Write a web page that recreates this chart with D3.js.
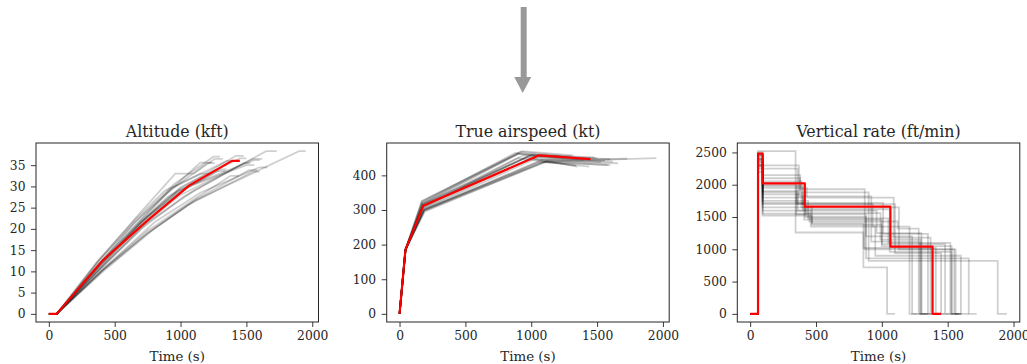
<!DOCTYPE html>
<html>
<head>
<meta charset="utf-8">
<script src="https://cdn.jsdelivr.net/npm/d3@7"></script>
<style>
  body { margin: 0; background: #fff; }
  svg { display: block; }
  text { font-family: "DejaVu Serif", serif; fill: #262626; }
</style>
</head>
<body>
<div id="chart"></div>
<script>
// time (s) -> altitude (kft), one array per flight
const altitudeFlights = [
  [[0,0],[60,0],[390,12.2],[700,22.0],[900,28.5],[1200,35.5],[1260,35.5]],
  [[0,0],[60,0],[400,11.0],[700,20.5],[1000,28.0],[1550,36.5],[1620,36.5]],
  [[0,0],[65,0],[380,12.5],[700,23.0],[950,30.5],[1250,37.0],[1300,37.0]],
  [[0,0],[60,0],[420,11.5],[750,21.5],[1100,29.0],[1650,38.3],[1730,38.3]],
  [[0,0],[60,0],[400,10.0],[750,19.0],[1100,26.5],[1900,38.3],[1950,38.3]],
  [[0,0],[60,0],[410,10.3],[750,19.0],[1050,25.5],[1550,33.5],[1600,33.5]],
  [[0,0],[60,0],[390,12.0],[700,22.3],[930,29.5],[1350,36.0],[1400,36.0]],
  [[0,0],[60,0],[400,11.8],[700,21.5],[980,29.0],[1500,35.0],[1560,35.0]],
  [[0,0],[60,0],[430,11.0],[800,21.5],[1150,28.5],[1600,34.5],[1660,34.5]],
  [[0,0],[60,0],[370,12.4],[650,22.0],[880,29.0],[1150,33.0],[1220,33.0]],
  [[0,0],[60,0],[400,10.8],[700,20.0],[1020,27.5],[1480,35.5],[1530,35.5]],
  [[0,0],[60,0],[410,11.6],[700,21.5],[1000,29.5],[1420,37.2],[1480,37.2]],
  [[0,0],[60,0],[390,11.2],[700,20.8],[960,28.0],[1300,34.0],[1350,34.0]],
  [[0,0],[60,0],[420,10.2],[800,20.0],[1120,27.0],[1520,33.8],[1580,33.8]],
  [[0,0],[60,0],[400,12.0],[750,22.8],[1050,30.0],[1560,36.2],[1600,36.2]],
  [[0,0],[60,0],[380,11.4],[650,20.0],[900,27.5],[1280,33.6],[1340,33.6]],
  [[0,0],[60,0],[400,11.9],[700,21.8],[1000,29.8],[1450,36.6],[1500,36.6]],
  [[0,0],[60,0],[410,10.5],[750,19.5],[1080,26.5],[1380,32.5],[1440,32.5]],
  [[0,0],[60,0],[380,12.6],[700,24.0],[960,33.0],[1100,33.0],[1260,36.5],[1320,36.5]],
  [[0,0],[60,0],[400,12.3],[650,21.5],[900,28.5],[1150,35.6],[1240,35.6]]
];
const altitudeRef = [[0,0],[60,0],[410,12.6],[750,22.0],[1070,30.3],[1390,36.0],[1450,36.0]];

// time (s) -> true airspeed (kt)
const speedFlights = [
  [[0,0],[45,185],[175,318],[900,462],[1260,450]],
  [[0,0],[45,185],[180,305],[1000,450],[1620,440]],
  [[0,0],[45,185],[170,325],[920,468],[1300,455]],
  [[0,0],[45,185],[185,300],[1080,445],[1730,448]],
  [[0,0],[45,185],[190,295],[1100,440],[1950,450]],
  [[0,0],[45,185],[185,298],[1050,438],[1600,430]],
  [[0,0],[45,185],[175,315],[940,458],[1400,445]],
  [[0,0],[45,185],[180,312],[980,455],[1560,442]],
  [[0,0],[45,185],[190,302],[1120,442],[1660,435]],
  [[0,0],[45,185],[170,322],[880,465],[1220,455]],
  [[0,0],[45,185],[185,303],[1020,446],[1530,438]],
  [[0,0],[45,185],[180,318],[1000,460],[1480,452]],
  [[0,0],[45,185],[175,308],[960,452],[1350,425]],
  [[0,0],[45,185],[190,298],[1120,440],[1580,430]],
  [[0,0],[45,185],[180,314],[1050,456],[1600,447]],
  [[0,0],[45,185],[175,306],[900,450],[1340,428]],
  [[0,0],[45,185],[180,316],[1000,458],[1500,450]],
  [[0,0],[45,185],[185,300],[1080,440],[1440,425]],
  [[0,0],[45,185],[170,326],[930,470],[1320,458]],
  [[0,0],[45,185],[175,320],[900,462],[1240,453]]
];
const speedRef = [[0,0],[45,185],[180,312],[1060,458],[1450,447]];

// time (s) -> vertical rate (ft/min), held until the next point
const rateFlights = [
  [[0,0],[60,2520],[95,2520],[345,1260],[860,720],[1040,0],[1100,0]],
  [[0,0],[60,2300],[95,2300],[370,1820],[920,1120],[1290,0],[1350,0]],
  [[0,0],[60,2350],[95,2100],[380,1930],[870,1000],[1550,0],[1600,0]],
  [[0,0],[60,2400],[95,1900],[360,1600],[960,1250],[1300,0],[1360,0]],
  [[0,0],[60,2450],[95,1750],[440,1480],[1050,1100],[1520,0],[1580,0]],
  [[0,0],[60,2250],[95,1650],[470,1380],[1000,1050],[1530,0],[1600,0]],
  [[0,0],[60,2480],[95,1850],[400,1700],[930,1350],[1210,0],[1270,0]],
  [[0,0],[60,2380],[95,2000],[350,1540],[880,860],[1660,0],[1720,0]],
  [[0,0],[60,2300],[95,1550],[450,1430],[1120,1320],[1280,0],[1340,0]],
  [[0,0],[60,2500],[95,2250],[360,1700],[1100,940],[1450,0],[1510,0]],
  [[0,0],[60,2200],[95,1700],[420,1500],[880,1200],[1230,0],[1300,0]],
  [[0,0],[60,2420],[95,1950],[430,1800],[1090,1180],[1370,0],[1430,0]],
  [[0,0],[60,2350],[95,1600],[460,1350],[950,900],[1600,0],[1660,0]],
  [[0,0],[60,2450],[95,2150],[380,1880],[900,820],[1880,0],[1950,0]],
  [[0,0],[60,2300],[95,1800],[410,1460],[1000,1080],[1480,0],[1540,0]],
  [[0,0],[60,2280],[95,1520],[470,1400],[860,1020],[1410,0],[1470,0]],
  [[0,0],[60,2400],[95,2050],[390,1650],[1130,1000],[1560,0],[1610,0]],
  [[0,0],[60,2460],[95,1880],[350,1720],[1010,1240],[1350,0],[1410,0]],
  [[0,0],[60,2320],[95,1720],[420,1560],[990,1150],[1300,0],[1370,0]],
  [[0,0],[60,2380],[95,1980],[400,1620],[1060,960],[1530,0],[1590,0]]
];
const rateRef = [[0,0],[60,2480],[95,2020],[415,1660],[1065,1040],[1385,0],[1450,0]];

const timeTicks = [0, 500, 1000, 1500, 2000];
const altitudeTicks = [0, 5, 10, 15, 20, 25, 30, 35];
const speedTicks = [0, 100, 200, 300, 400];
const rateTicks = [0, 500, 1000, 1500, 2000, 2500];

const width = 1027, height = 364;
const panelTop = 143, panelBottom = 322, panelW = 282.5;
const panelLefts = [36, 386.7, 737.3];

const panels = [
  { title: "Altitude (kft)", flights: altitudeFlights, ref: altitudeRef, yTicks: altitudeTicks, step: false },
  { title: "True airspeed (kt)", flights: speedFlights, ref: speedRef, yTicks: speedTicks, step: false },
  { title: "Vertical rate (ft/min)", flights: rateFlights, ref: rateRef, yTicks: rateTicks, step: true }
];

const svg = d3.select("#chart").append("svg")
  .attr("width", width)
  .attr("height", height);

// arrow at the top
svg.append("rect")
  .attr("x", 520.7).attr("y", 7)
  .attr("width", 6).attr("height", 71)
  .attr("fill", "#999");
svg.append("path")
  .attr("d", "M514.2,77 L531.2,77 L522.7,93 Z")
  .attr("fill", "#999");

// x range of all flights, padded 5% like matplotlib
const allT = d3.merge(panels.map(p => d3.merge(p.flights.concat([p.ref])).map(d => d[0])));
const tExt = d3.extent(allT);
const tPad = (tExt[1] - tExt[0]) * 0.05;

panels.forEach((p, i) => {
  const left = panelLefts[i];
  const g = svg.append("g");

  const vals = d3.merge(p.flights.concat([p.ref])).map(d => d[1]);
  const yExt = d3.extent(vals);
  const yPad = (yExt[1] - yExt[0]) * 0.05;

  const x = d3.scaleLinear()
    .domain([tExt[0] - tPad, tExt[1] + tPad])
    .range([left, left + panelW]);
  const y = d3.scaleLinear()
    .domain([yExt[0] - yPad, yExt[1] + yPad])
    .range([panelBottom, panelTop]);

  const line = d3.line()
    .x(d => x(d[0]))
    .y(d => y(d[1]))
    .curve(p.step ? d3.curveStepAfter : d3.curveLinear);

  const clipId = "clip" + i;
  svg.append("clipPath").attr("id", clipId)
    .append("rect")
    .attr("x", left).attr("y", panelTop)
    .attr("width", panelW).attr("height", panelBottom - panelTop);

  const plot = g.append("g").attr("clip-path", `url(#${clipId})`);

  plot.selectAll(".flight")
    .data(p.flights)
    .enter().append("path")
    .attr("class", "flight")
    .attr("d", line)
    .attr("fill", "none")
    .attr("stroke", "#000")
    .attr("stroke-opacity", 0.19)
    .attr("stroke-width", 1.8);

  plot.append("path")
    .attr("d", line(p.ref))
    .attr("fill", "none")
    .attr("stroke", "#ff0000")
    .attr("stroke-width", 2.2)
    .attr("stroke-linejoin", "round");

  const xAxis = d3.axisBottom(x)
    .tickValues(timeTicks)
    .tickSize(5)
    .tickPadding(4.5)
    .tickFormat(d3.format("d"));
  const yAxis = d3.axisLeft(y)
    .tickValues(p.yTicks)
    .tickSize(5)
    .tickPadding(5.5)
    .tickFormat(d3.format("d"));

  const gx = g.append("g")
    .attr("transform", `translate(0,${panelBottom})`)
    .call(xAxis);
  const gy = g.append("g")
    .attr("transform", `translate(${left},0)`)
    .call(yAxis);

  [gx, gy].forEach(ax => {
    ax.select(".domain").remove();
    ax.selectAll(".tick line").attr("stroke", "#262626").attr("stroke-width", 0.9);
    ax.selectAll(".tick text")
      .attr("fill", "#262626")
      .style("font-family", "'DejaVu Serif', serif")
      .style("font-size", "12.3px");
  });

  // frame
  g.append("rect")
    .attr("x", left).attr("y", panelTop)
    .attr("width", panelW).attr("height", panelBottom - panelTop)
    .attr("fill", "none")
    .attr("stroke", "#262626")
    .attr("stroke-width", 1);

  g.append("text")
    .attr("x", left + panelW / 2)
    .attr("y", 137)
    .attr("text-anchor", "middle")
    .style("font-size", "15.8px")
    .text(p.title);

  g.append("text")
    .attr("x", left + panelW / 2)
    .attr("y", 361)
    .attr("text-anchor", "middle")
    .style("font-size", "13.4px")
    .text("Time (s)");
});
</script>
</body>
</html>
